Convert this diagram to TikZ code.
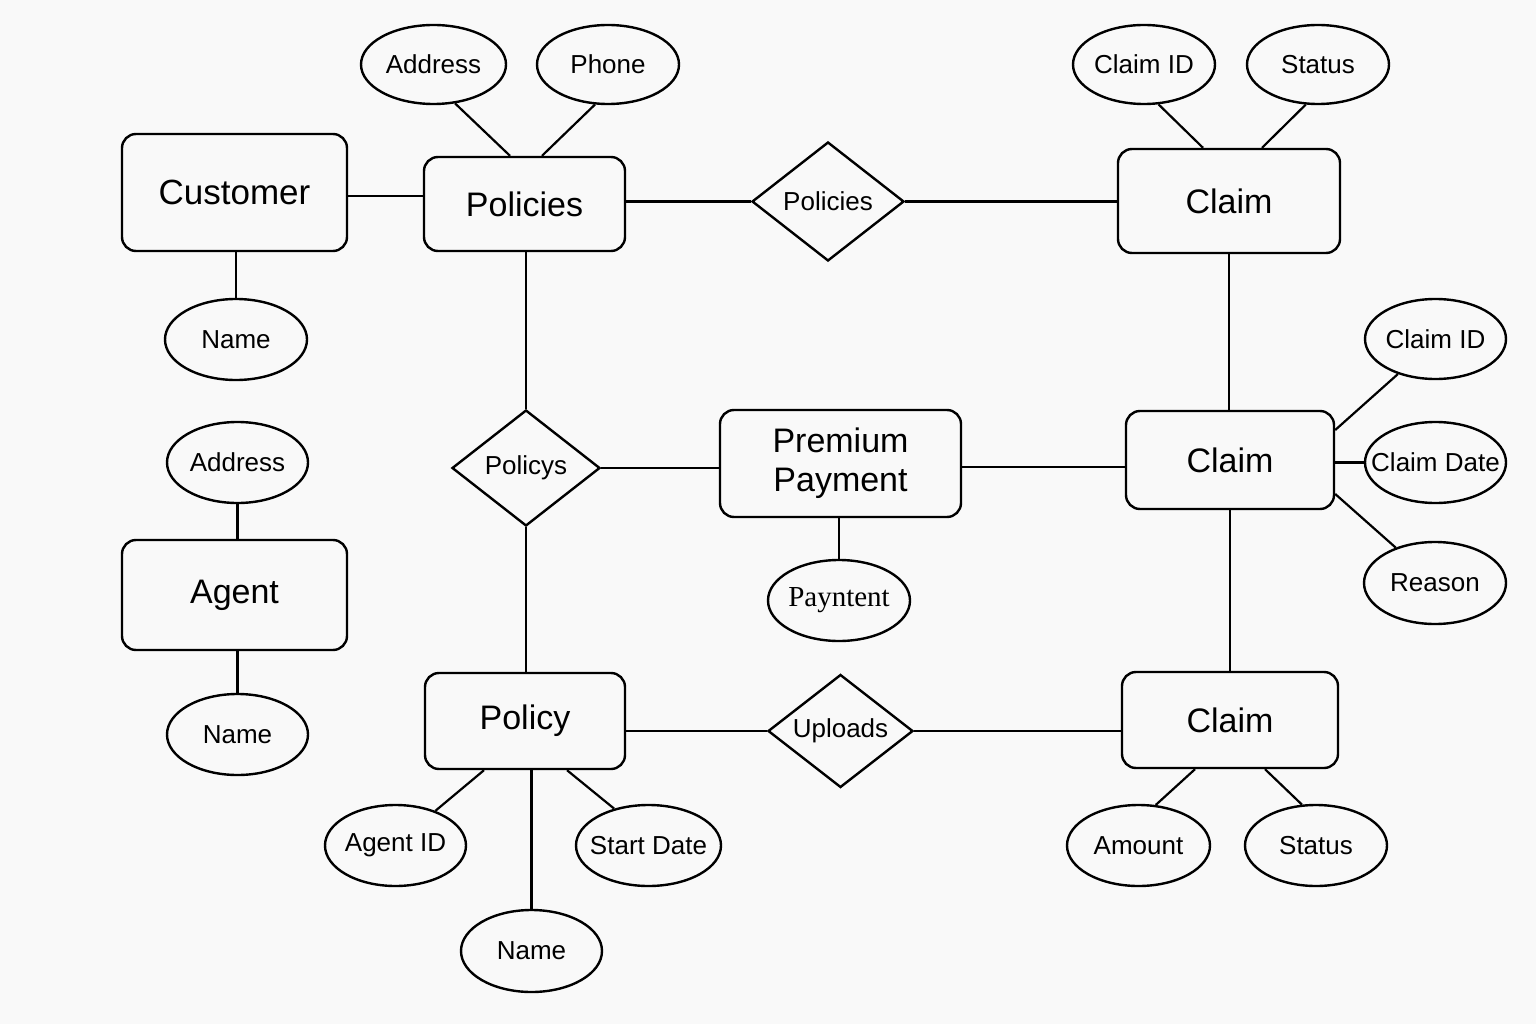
\documentclass[tikz,border=0pt]{standalone}
\usepackage{fontspec}
\setmainfont{Liberation Sans}
\newfontfamily\serifpay{Liberation Serif}
\usetikzlibrary{shapes.geometric}
\definecolor{bgc}{HTML}{F9F9F9}
\newcommand{\zb}[1]{\makebox[0pt]{#1}}
\begin{document}
\begin{tikzpicture}[x=1pt,y=-1pt,line width=2.4pt,
  ent/.style={draw,rounded corners=14pt,inner sep=0pt,align=center,font=\fontsize{34}{39}\selectfont},
  attr/.style={draw,ellipse,inner sep=0pt,minimum width=142pt,minimum height=80pt,font=\fontsize{26}{30}\selectfont},
  rel/.style={draw,diamond,inner sep=0pt,aspect=1.28,font=\fontsize{26}{30}\selectfont},
  conn/.style={line width=2.2pt}]
\fill[bgc] (0,0) rectangle (1536,1024);
\useasboundingbox (0,0) rectangle (1536,1024);
% entities
\node[ent,minimum width=225pt,minimum height=117pt,font=\fontsize{35}{40}\selectfont] (customer) at (234.5,192.5) {Customer};
\node[ent,minimum width=201pt,minimum height=94pt] (policies) at (524.5,204) {Policies};
\node[ent,minimum width=222pt,minimum height=104pt] (claim1) at (1229,201) {Claim};
\node[ent,minimum width=208pt,minimum height=98pt] (claim2) at (1230,460) {Claim};
\node[ent,minimum width=241pt,minimum height=107pt] (pp) at (840.5,463.5) {Premium\\Payment};
\node[ent,minimum width=225pt,minimum height=110pt] (agent) at (234.5,595) {Agent};
\node[ent,minimum width=200pt,minimum height=96pt] (policy) at (525,721) {Policy};
\node[ent,minimum width=216pt,minimum height=96pt] (claim3) at (1230,720) {Claim};
% relationships
\node[rel,minimum width=152pt,minimum height=119pt] (pdia) at (828,201.5) {Policies};
\node[rel,minimum width=148pt,minimum height=116pt] (policys) at (526,468) {Policys};
\node[rel,minimum width=145pt,minimum height=113pt] (upl) at (840.5,731) {Uploads};
% attributes
\node[attr,minimum width=145pt,minimum height=79pt] (addr1) at (433.5,64.5) {\zb{Address}};
\node[attr,minimum height=79pt] (phone) at (608,64.5) {\zb{Phone}};
\node[attr,minimum height=79pt] (cid1) at (1144,64.5) {\zb{Claim ID}};
\node[attr,minimum height=79pt] (status1) at (1318,64.5) {\zb{Status}};
\node[attr,minimum height=81pt] (name1) at (236,339.5) {\zb{Name}};
\node[attr,minimum width=141pt,minimum height=81pt] (addr2) at (237.5,462.5) {\zb{Address}};
\node[attr,minimum width=141pt,minimum height=81pt] (name2) at (237.5,734.5) {\zb{Name}};
\node[attr,minimum width=141pt] (cid2) at (1435.5,339) {\zb{Claim ID}};
\node[attr,minimum width=141pt,minimum height=81pt] (cdate) at (1435.5,462.5) {\zb{Claim Date}};
\node[attr,minimum height=82pt] (reason) at (1435,583) {\zb{Reason}};
\node[attr,minimum height=81pt,font=\serifpay\fontsize{29}{33}\selectfont] (payn) at (839,600.5) {\zb{Payntent}};
\node[attr,minimum width=141pt,minimum height=81pt] (agentid) at (395.5,845.5) {\zb{Agent ID}};
\node[attr,minimum width=145pt,minimum height=81pt] (sdate) at (648.5,845.5) {\zb{Start Date}};
\node[attr,minimum width=141pt,minimum height=82pt] (name3) at (531.5,951) {\zb{Name}};
\node[attr,minimum width=143pt,minimum height=81pt] (amount) at (1138.5,845.5) {\zb{Amount}};
\node[attr,minimum height=81pt] (status2) at (1316,845.5) {\zb{Status}};
% connectors
\draw[conn] ([yshift=-3.5pt]customer.east) -- ([yshift=-3.5pt]customer.east -| policies.west);
\draw[conn] (name1.north) -- (name1.north |- customer.south);
\draw[conn] (addr1.-61) -- ([xshift=-14.5pt]policies.north);
\draw[conn] (phone.-108) -- ([xshift=17.5pt]policies.north);
\draw[conn] (pdia.west) -- (pdia.west -| policies.east);
\draw[conn] (pdia.east) -- (pdia.east -| claim1.west);
\draw[conn] (cid1.-70) -- ([xshift=-26pt]claim1.north);
\draw[conn] (status1.-107) -- ([xshift=33pt]claim1.north);
\draw[conn] (claim1.south) -- (claim1.south |- claim2.north);
\draw[conn] (policys.north) -- (policys.north |- policies.south);
\draw[conn] (policys.east) -- (policys.east -| pp.west);
\draw[conn] ([yshift=-3.5pt]pp.east) -- ([yshift=-3.5pt]pp.east -| claim2.west);
\draw[conn] (payn.north) -- (payn.north |- pp.south);
\draw[conn] (cid2.-137) -- ([yshift=30pt]claim2.east);
\draw[conn] (cdate.west) -- (cdate.west -| claim2.east);
\draw[conn] (reason.138) -- ([yshift=-34pt]claim2.east);
\draw[conn] (claim2.south) -- (claim2.south |- claim3.north);
\draw[conn] (policys.south) -- (policys.south |- policy.north);
\draw[conn] (upl.west) -- (upl.west -| policy.east);
\draw[conn] (upl.east) -- (upl.east -| claim3.west);
\draw[conn] (agentid.41) -- ([xshift=-41pt]policy.south);
\draw[conn] (sdate.133) -- ([xshift=42pt]policy.south);
\draw[conn] (name3.north) -- (name3.north |- policy.south);
\draw[conn] (amount.67) -- ([xshift=-35pt]claim3.south);
\draw[conn] (status2.109) -- ([xshift=35pt]claim3.south);
\draw[conn] (addr2.south) -- (addr2.south |- agent.north);
\draw[conn] (name2.north) -- (name2.north |- agent.south);
\end{tikzpicture}
\end{document}
